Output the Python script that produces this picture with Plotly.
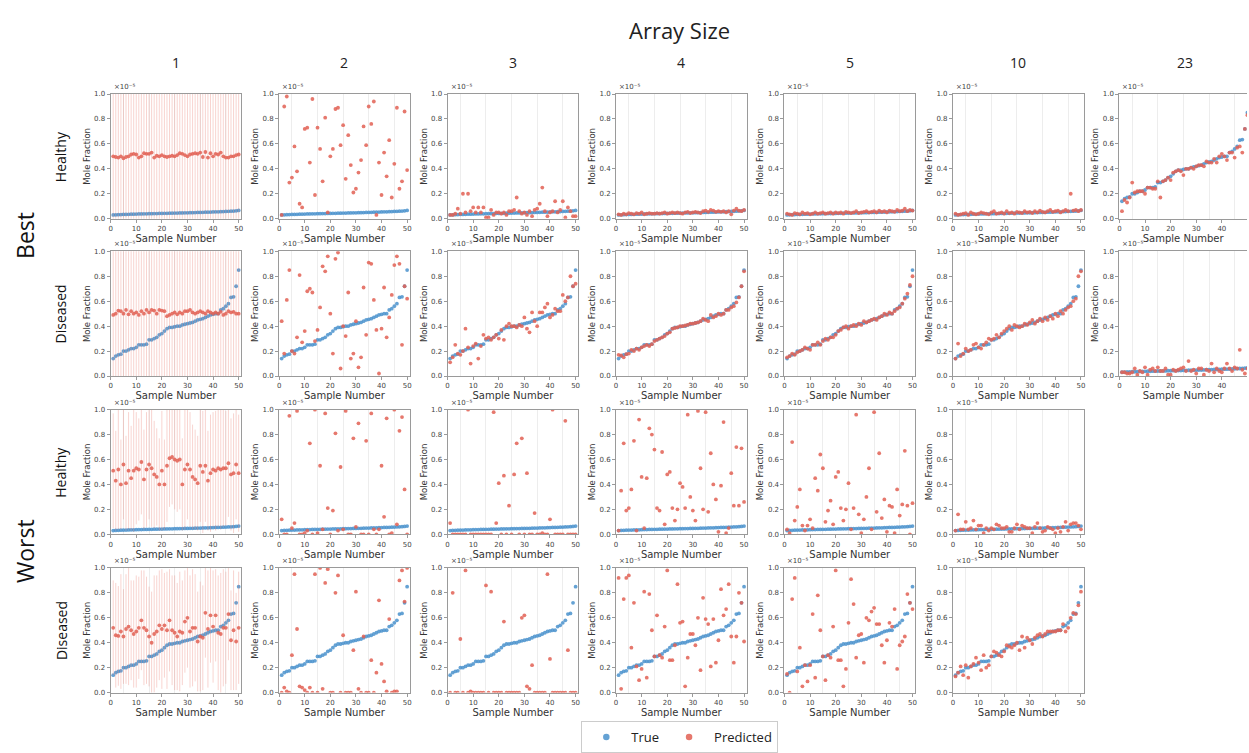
import plotly.graph_objects as go

W, H = 1249, 753

SAMPLES = list(range(1, 51))
ARRAY_SIZES = ["1", "2", "3", "4", "5", "10", "23"]
ROW_GROUPS = ["Best", "Worst"]
ROW_CONDITIONS = ["Healthy", "Diseased", "Healthy", "Diseased"]

healthy_true = [0.030,0.031,0.032,0.033,0.034,0.034,0.035,0.036,0.036,0.037,0.038,0.038,0.039,0.039,0.040,
                0.040,0.041,0.041,0.042,0.042,0.043,0.043,0.044,0.044,0.045,0.045,0.046,0.046,0.047,0.047,
                0.048,0.048,0.049,0.050,0.050,0.051,0.052,0.052,0.053,0.054,0.055,0.055,0.056,0.057,0.058,
                0.059,0.060,0.061,0.063,0.066]
diseased_true = [0.14,0.16,0.17,0.175,0.20,0.20,0.21,0.22,0.22,0.23,0.25,0.25,0.25,0.255,0.29,0.29,0.30,0.31,
                 0.33,0.34,0.36,0.38,0.39,0.39,0.395,0.40,0.40,0.41,0.415,0.42,0.425,0.43,0.44,0.45,0.455,
                 0.46,0.47,0.48,0.49,0.495,0.50,0.50,0.53,0.54,0.56,0.58,0.63,0.635,0.72,0.85]

# ---------- predicted values: Best / Healthy ----------
best_healthy_1 = [0.50,0.495,0.49,0.50,0.485,0.495,0.50,0.515,0.52,0.515,0.49,0.50,0.525,0.52,0.52,0.53,0.49,0.505,
                  0.50,0.51,0.50,0.495,0.50,0.505,0.50,0.51,0.525,0.52,0.51,0.50,0.515,0.52,0.525,0.52,0.53,0.495,
                  0.535,0.49,0.525,0.50,0.52,0.515,0.53,0.50,0.49,0.49,0.50,0.50,0.51,0.515]
best_healthy_1_err = [0.55,0.56,0.55,0.54,0.56,0.55,0.55,0.54,0.56,0.55,0.56,0.55,0.54,0.55,0.56,0.55,0.55,0.56,
                      0.55,0.54,0.56,0.55,0.55,0.54,0.56,0.55,0.55,0.56,0.54,0.55,0.56,0.55,0.54,0.55,0.56,0.55,
                      0.54,0.56,0.55,0.55,0.56,0.54,0.55,0.56,0.55,0.55,0.54,0.56,0.55,0.55]
best_healthy_2 = [0.03,0.90,0.98,0.29,0.33,0.58,0.38,0.12,0.09,0.72,0.73,0.45,0.96,0.19,0.73,0.56,0.30,0.81,0.05,
                  0.50,0.56,0.88,0.89,0.59,0.75,0.32,0.67,0.43,0.21,0.24,0.37,0.47,0.74,0.59,0.90,0.76,0.94,0.03,
                  0.45,0.19,0.53,0.34,0.63,0.17,0.44,0.89,0.24,0.30,0.86,0.39]
best_healthy_3 = [0.03,0.03,0.04,0.08,0.04,0.20,0.05,0.20,0.06,0.09,0.05,0.09,0.05,0.09,0.01,0.01,0.07,0.03,0.05,
                  0.05,0.04,0.05,0.03,0.06,0.06,0.07,0.17,0.06,0.04,0.05,0.03,0.06,0.02,0.07,0.08,0.12,0.25,0.06,
                  0.02,0.05,0.06,0.14,0.05,0.07,0.14,0.01,0.09,0.06,0.02,0.02]
best_healthy_4 = [0.035,0.030,0.040,0.035,0.045,0.040,0.035,0.045,0.040,0.050,0.035,0.040,0.045,0.040,0.040,0.045,
                  0.040,0.045,0.050,0.040,0.045,0.050,0.045,0.050,0.045,0.040,0.050,0.055,0.045,0.050,0.055,0.050,
                  0.045,0.060,0.065,0.055,0.070,0.065,0.055,0.060,0.055,0.060,0.050,0.060,0.035,0.065,0.080,0.065,
                  0.060,0.070]
best_healthy_5 = [0.04,0.035,0.03,0.045,0.04,0.035,0.05,0.04,0.045,0.035,0.04,0.05,0.04,0.045,0.05,0.04,0.045,0.05,
                  0.04,0.05,0.045,0.05,0.04,0.055,0.05,0.045,0.05,0.06,0.045,0.05,0.055,0.06,0.05,0.055,0.06,0.05,
                  0.065,0.055,0.06,0.05,0.065,0.06,0.055,0.07,0.06,0.065,0.08,0.06,0.07,0.065]
best_healthy_10 = [0.04,0.03,0.035,0.04,0.045,0.03,0.05,0.04,0.035,0.04,0.05,0.045,0.04,0.035,0.05,0.06,0.04,0.045,
                   0.05,0.04,0.06,0.045,0.05,0.04,0.055,0.05,0.045,0.06,0.05,0.055,0.045,0.06,0.05,0.065,0.055,0.05,
                   0.06,0.07,0.055,0.06,0.065,0.05,0.06,0.07,0.06,0.20,0.065,0.07,0.06,0.07]
best_healthy_23 = [0.06,0.15,0.13,0.17,0.29,0.21,0.22,0.22,0.22,0.20,0.25,0.25,0.24,0.24,0.30,0.17,0.30,0.31,0.33,
                   0.31,0.37,0.38,0.39,0.38,0.35,0.40,0.40,0.41,0.40,0.42,0.43,0.43,0.42,0.46,0.45,0.45,0.48,0.45,
                   0.50,0.52,0.50,0.47,0.53,0.53,0.49,0.57,0.58,0.53,0.72,0.83]

# ---------- predicted values: Best / Diseased ----------
best_diseased_1 = [0.49,0.50,0.525,0.52,0.50,0.53,0.495,0.52,0.50,0.51,0.49,0.52,0.50,0.53,0.51,0.53,0.525,0.50,
                   0.53,0.525,0.52,0.48,0.49,0.50,0.51,0.495,0.51,0.50,0.52,0.52,0.53,0.51,0.50,0.51,0.52,0.51,
                   0.50,0.52,0.51,0.50,0.51,0.50,0.515,0.49,0.50,0.52,0.51,0.515,0.50,0.50]
best_diseased_1_err = [0.55,0.54,0.56,0.55,0.55,0.56,0.54,0.55,0.56,0.55,0.54,0.55,0.56,0.55,0.55,0.54,0.56,0.55,
                       0.55,0.56,0.54,0.55,0.56,0.55,0.54,0.55,0.56,0.55,0.55,0.54,0.56,0.55,0.55,0.56,0.54,0.55,
                       0.56,0.55,0.54,0.55,0.56,0.55,0.55,0.54,0.56,0.55,0.55,0.56,0.54,0.55]
best_diseased_2 = [0.44,0.18,0.61,0.85,0.20,0.18,0.31,0.81,0.27,0.36,0.68,0.70,0.67,0.28,0.37,0.55,0.88,0.84,0.96,
                   0.50,0.18,0.94,0.99,0.06,0.40,0.32,0.67,0.14,0.18,0.44,0.07,0.15,0.71,0.33,0.91,0.90,0.61,0.37,
                   0.02,0.38,0.71,0.31,0.47,0.65,0.89,0.96,0.90,0.25,0.72,0.62]
best_diseased_3 = [0.11,0.15,0.25,0.18,0.17,0.20,0.38,0.23,0.10,0.24,0.26,0.14,0.24,0.33,0.30,0.31,0.29,0.31,0.33,
                   0.30,0.37,0.29,0.40,0.42,0.40,0.40,0.39,0.41,0.40,0.47,0.38,0.35,0.51,0.44,0.40,0.51,0.51,0.55,
                   0.58,0.47,0.49,0.54,0.52,0.52,0.65,0.60,0.63,0.80,0.72,0.74]
best_diseased_4 = [0.17,0.165,0.15,0.175,0.18,0.21,0.20,0.22,0.21,0.23,0.24,0.25,0.24,0.255,0.28,0.29,0.30,0.31,
                   0.32,0.34,0.35,0.38,0.385,0.39,0.40,0.40,0.405,0.41,0.42,0.42,0.425,0.43,0.44,0.46,0.45,0.44,
                   0.49,0.47,0.48,0.50,0.49,0.50,0.53,0.53,0.55,0.56,0.59,0.63,0.72,0.84]
best_diseased_5 = [0.15,0.16,0.18,0.17,0.19,0.20,0.21,0.23,0.22,0.21,0.25,0.25,0.27,0.25,0.28,0.30,0.29,0.31,0.31,
                   0.33,0.36,0.37,0.39,0.40,0.38,0.40,0.41,0.40,0.42,0.41,0.44,0.43,0.44,0.45,0.46,0.45,0.47,0.48,
                   0.50,0.49,0.51,0.50,0.52,0.54,0.55,0.58,0.62,0.66,0.73,0.80]
best_diseased_10 = [0.14,0.26,0.16,0.18,0.22,0.20,0.21,0.25,0.26,0.23,0.22,0.25,0.27,0.30,0.29,0.30,0.33,0.31,0.34,
                    0.36,0.38,0.40,0.37,0.41,0.40,0.39,0.40,0.42,0.41,0.43,0.45,0.42,0.44,0.46,0.44,0.47,0.45,0.48,
                    0.46,0.50,0.48,0.52,0.50,0.53,0.55,0.56,0.60,0.62,0.80,0.84]
best_diseased_23 = [0.03,0.03,0.02,0.02,0.03,0.06,0.01,0.04,0.03,0.07,0.01,0.05,0.06,0.04,0.07,0.04,0.04,0.06,0.01,
                    0.01,0.05,0.04,0.05,0.06,0.07,0.04,0.12,0.04,0.05,0.02,0.06,0.06,0.01,0.05,0.04,0.10,0.03,0.06,
                    0.04,0.03,0.06,0.10,0.06,0.04,0.07,0.06,0.21,0.05,0.02,0.06]

# ---------- predicted values: Worst / Healthy ----------
worst_healthy_1 = [0.51,0.43,0.52,0.40,0.56,0.41,0.51,0.45,0.51,0.53,0.52,0.58,0.44,0.52,0.56,0.53,0.48,0.46,0.40,
                   0.51,0.40,0.55,0.61,0.62,0.60,0.59,0.60,0.40,0.52,0.56,0.52,0.46,0.44,0.41,0.55,0.50,0.55,0.43,
                   0.49,0.52,0.51,0.53,0.52,0.53,0.53,0.57,0.48,0.49,0.56,0.49]
worst_healthy_1_err = [0.46,0.40,0.48,0.36,0.44,0.38,0.47,0.42,0.49,0.45,0.41,0.42,0.40,0.46,0.44,0.47,0.43,0.39,
                       0.37,0.48,0.36,0.45,0.39,0.38,0.40,0.41,0.40,0.37,0.48,0.44,0.46,0.42,0.40,0.38,0.45,0.49,
                       0.45,0.40,0.47,0.46,0.48,0.47,0.48,0.47,0.46,0.43,0.45,0.48,0.44,0.47]
worst_healthy_2 = [0.12,0.00,0.00,0.95,0.05,0.09,0.99,0.00,0.00,0.01,0.03,0.73,0.00,1.00,0.01,0.55,0.04,0.97,0.21,
                   0.00,0.19,0.81,0.03,0.54,0.04,0.99,0.00,0.00,0.77,0.06,0.89,0.00,0.00,0.75,0.00,0.97,0.04,0.00,
                   0.04,0.55,0.14,0.93,0.00,0.01,1.00,0.08,0.83,0.94,0.36,0.00]
worst_healthy_3 = [0.09,0.00,0.00,0.00,0.00,0.00,0.00,1.00,0.00,0.00,0.00,0.00,0.00,0.00,0.00,0.00,0.00,0.98,0.09,
                   0.41,0.00,0.47,0.00,0.23,0.00,0.48,0.73,0.00,0.77,0.00,0.49,0.00,0.00,0.17,0.00,0.00,0.01,0.00,
                   0.00,0.12,1.00,0.00,0.00,0.00,0.00,0.91,0.00,0.00,0.00,0.00]
worst_healthy_4 = [0.03,0.35,0.73,0.19,0.21,0.36,0.75,0.03,0.92,0.46,0.05,0.45,0.85,0.80,0.68,0.21,0.19,0.66,0.08,
                   0.48,0.50,0.21,0.11,0.20,0.41,0.38,0.21,0.96,0.30,0.19,0.11,0.99,0.53,0.20,0.98,0.18,0.65,0.40,
                   0.28,0.02,0.39,0.90,0.01,0.05,0.49,0.23,0.70,0.23,0.69,0.26]
worst_healthy_5 = [0.04,0.01,0.74,0.11,0.22,0.36,0.07,0.03,0.07,0.12,0.05,0.45,0.35,0.64,0.53,0.10,0.19,0.27,0.08,
                   0.46,0.50,0.21,0.11,0.20,0.41,0.04,0.21,0.96,0.16,0.01,0.12,0.30,0.53,0.04,0.98,0.18,0.65,0.13,
                   0.28,0.02,0.23,0.22,0.01,0.36,0.15,0.24,0.67,0.23,0.00,0.25]
worst_healthy_10 = [0.03,0.16,0.04,0.04,0.10,0.04,0.05,0.11,0.04,0.07,0.07,0.01,0.05,0.03,0.05,0.04,0.08,0.07,0.05,
                    0.05,0.06,0.02,0.02,0.05,0.08,0.04,0.07,0.06,0.05,0.05,0.01,0.06,0.09,0.05,0.02,0.03,0.06,0.05,
                    0.04,0.01,0.05,0.02,0.06,0.10,0.03,0.08,0.09,0.09,0.07,0.04]

# ---------- predicted values: Worst / Diseased ----------
worst_diseased_1 = [0.52,0.46,0.455,0.49,0.45,0.51,0.53,0.50,0.47,0.49,0.52,0.58,0.52,0.50,0.45,0.40,0.47,0.49,0.54,
                    0.51,0.54,0.50,0.58,0.50,0.48,0.45,0.49,0.48,0.57,0.60,0.49,0.52,0.52,0.41,0.45,0.44,0.64,0.51,
                    0.62,0.53,0.62,0.48,0.47,0.52,0.52,0.63,0.42,0.50,0.41,0.52]
worst_diseased_1_err = [0.38,0.42,0.40,0.46,0.38,0.44,0.47,0.40,0.43,0.45,0.41,0.40,0.46,0.43,0.40,0.41,0.47,0.45,
                        0.44,0.48,0.42,0.47,0.41,0.44,0.46,0.43,0.48,0.42,0.41,0.40,0.45,0.47,0.43,0.40,0.44,0.42,
                        0.36,0.47,0.38,0.45,0.37,0.46,0.49,0.47,0.45,0.37,0.40,0.48,0.39,0.45]
worst_diseased_2 = [0.00,0.04,0.01,0.00,0.30,0.95,0.51,0.05,0.04,0.02,0.00,0.04,0.00,0.95,0.00,1.00,0.03,0.88,0.99,
                    0.00,0.00,0.80,0.94,0.00,0.46,0.00,0.00,0.00,0.34,0.81,0.03,0.00,0.45,0.00,0.00,0.26,0.00,0.16,
                    0.74,0.23,0.09,0.01,0.59,0.00,0.01,0.01,0.90,0.98,0.73,1.00]
worst_diseased_3 = [0.00,0.80,0.00,0.00,0.43,0.00,0.98,0.00,0.01,0.00,0.00,0.00,0.00,0.00,0.86,0.00,0.81,0.00,0.00,
                    0.00,0.00,0.57,0.00,0.00,0.00,0.00,0.00,0.00,0.60,0.62,0.05,0.03,0.22,0.00,0.00,0.00,0.00,0.00,
                    0.95,0.27,0.00,0.00,0.00,0.00,0.00,0.00,0.34,0.00,0.00,0.00]
worst_diseased_4 = [0.92,0.03,0.75,0.92,0.94,0.36,0.72,0.21,0.10,0.19,0.81,0.12,0.79,0.50,0.29,0.62,0.30,0.28,0.53,
                    0.98,0.26,0.26,0.38,0.87,0.56,0.57,0.05,0.28,0.47,0.47,0.38,0.60,0.18,0.76,0.59,0.55,0.21,0.59,
                    0.24,0.42,0.83,0.62,0.67,0.87,0.45,0.24,0.45,0.80,0.72,0.41]
worst_diseased_5 = [0.15,0.00,0.75,0.92,0.17,0.36,0.05,0.22,0.09,0.22,0.63,0.12,0.78,0.50,0.29,0.10,0.30,0.28,0.53,
                    0.98,0.26,0.26,0.05,0.19,0.56,0.91,0.71,0.28,0.46,0.47,0.24,0.60,0.58,0.65,0.68,0.55,0.55,0.38,
                    0.24,0.42,0.56,0.53,0.67,0.19,0.38,0.41,0.45,0.79,0.72,0.67]
worst_diseased_10 = [0.13,0.16,0.21,0.14,0.22,0.12,0.21,0.23,0.28,0.24,0.18,0.30,0.20,0.22,0.29,0.33,0.32,0.30,0.29,
                     0.33,0.38,0.37,0.36,0.38,0.40,0.34,0.45,0.36,0.44,0.42,0.39,0.44,0.46,0.47,0.45,0.47,0.49,0.49,
                     0.49,0.49,0.50,0.50,0.55,0.49,0.52,0.60,0.64,0.63,0.70,0.81]

# panel table: (row, col) -> (true, predicted, error)
panels = {
    (0, 0): (healthy_true, best_healthy_1, best_healthy_1_err),
    (0, 1): (healthy_true, best_healthy_2, None),
    (0, 2): (healthy_true, best_healthy_3, None),
    (0, 3): (healthy_true, best_healthy_4, None),
    (0, 4): (healthy_true, best_healthy_5, None),
    (0, 5): (healthy_true, best_healthy_10, None),
    (0, 6): (diseased_true, best_healthy_23, None),
    (1, 0): (diseased_true, best_diseased_1, best_diseased_1_err),
    (1, 1): (diseased_true, best_diseased_2, None),
    (1, 2): (diseased_true, best_diseased_3, None),
    (1, 3): (diseased_true, best_diseased_4, None),
    (1, 4): (diseased_true, best_diseased_5, None),
    (1, 5): (diseased_true, best_diseased_10, None),
    (1, 6): (healthy_true, best_diseased_23, None),
    (2, 0): (healthy_true, worst_healthy_1, worst_healthy_1_err),
    (2, 1): (healthy_true, worst_healthy_2, None),
    (2, 2): (healthy_true, worst_healthy_3, None),
    (2, 3): (healthy_true, worst_healthy_4, None),
    (2, 4): (healthy_true, worst_healthy_5, None),
    (2, 5): (healthy_true, worst_healthy_10, None),
    (3, 0): (diseased_true, worst_diseased_1, worst_diseased_1_err),
    (3, 1): (diseased_true, worst_diseased_2, None),
    (3, 2): (diseased_true, worst_diseased_3, None),
    (3, 3): (diseased_true, worst_diseased_4, None),
    (3, 4): (diseased_true, worst_diseased_5, None),
    (3, 5): (diseased_true, worst_diseased_10, None),
}

# ---------- layout geometry (window pixels) ----------
COL_LEFT = [109, 278, 447, 616, 785, 954, 1121]
ROW_TOP = [91, 250, 410, 570]
PW, PH = 131, 126


def px(xw):
    return xw / W


def py(yw):
    return 1 - yw / H


TRUE_C = "rgba(74,146,204,0.85)"
PRED_C = "rgba(226,96,84,0.85)"
ERR_C = "rgba(232,120,110,0.32)"
AX_C = "#9a9a9a"
TXT = "#333333"
TICKFONT = dict(family="DejaVu Sans", size=7, color="#444")

fig = go.Figure()
annotations = []

for idx, ((r, c), (tv, pv, ev)) in enumerate(sorted(panels.items())):
    n = idx + 1
    xa = "x" if n == 1 else f"x{n}"
    ya = "y" if n == 1 else f"y{n}"
    left = COL_LEFT[c]
    right = min(left + PW, W)
    top = ROW_TOP[r]
    bottom = top + PH
    xdom = [px(left), min(px(right), 1.0)]
    ydom = [py(bottom), py(top)]
    xmax = 51 * (right - left) / PW

    fig.add_trace(go.Scatter(
        x=SAMPLES, y=tv, mode="markers", xaxis=xa, yaxis=ya,
        marker=dict(color=TRUE_C, size=3.8), name="True",
        showlegend=False, legendgroup="true", cliponaxis=True))
    err = None
    if ev is not None:
        err = dict(type="data", array=ev, visible=True, color=ERR_C, thickness=1, width=0)
    fig.add_trace(go.Scatter(
        x=SAMPLES, y=pv, mode="markers", xaxis=xa, yaxis=ya, error_y=err,
        marker=dict(color=PRED_C, size=3.8), name="Predicted",
        showlegend=False, legendgroup="pred", cliponaxis=True))

    last_col = (c == 6)
    fig.layout[("xaxis" if n == 1 else f"xaxis{n}")] = dict(
        domain=xdom, range=[0, xmax], anchor=ya, showgrid=False, zeroline=False,
        tickvals=[0, 10, 20, 30, 40, 50], ticks="outside", ticklen=3, tickwidth=0.8, tickcolor=AX_C,
        tickfont=TICKFONT, showline=True, linecolor=AX_C, linewidth=1, mirror=True,
        minor=dict(tickvals=[5, 15, 25, 35, 45], showgrid=True, gridcolor="rgba(0,0,0,0.07)", gridwidth=1, ticks=""),
        title=dict(text="Sample Number", font=dict(family="DejaVu Sans", size=10, color=TXT), standoff=2),
        fixedrange=True)
    fig.layout[("yaxis" if n == 1 else f"yaxis{n}")] = dict(
        domain=ydom, range=[0, 1], anchor=xa, showgrid=False, zeroline=False,
        tickvals=[0, 0.2, 0.4, 0.6, 0.8, 1.0], ticktext=["0.0", "0.2", "0.4", "0.6", "0.8", "1.0"],
        ticks="outside", ticklen=3, tickwidth=0.8, tickcolor=AX_C, tickfont=TICKFONT,
        showline=True, linecolor=AX_C, linewidth=1, mirror=not last_col,
        title=dict(text="Mole Fraction", font=dict(family="DejaVu Sans", size=8.5, color=TXT), standoff=2),
        fixedrange=True)
    annotations.append(dict(
        text="×10⁻⁵", x=px(left + 1), y=py(top - 1), xref="paper", yref="paper",
        xanchor="left", yanchor="bottom", showarrow=False,
        font=dict(family="DejaVu Sans", size=7, color="#444")))

# legend entries (legend keys only)
fig.add_trace(go.Scatter(x=[None], y=[None], mode="markers", name="True",
                         marker=dict(color=TRUE_C, size=6.5), showlegend=True, legendgroup="true"))
fig.add_trace(go.Scatter(x=[None], y=[None], mode="markers", name="Predicted",
                         marker=dict(color=PRED_C, size=6.5), showlegend=True, legendgroup="pred"))

# column headers
annotations.append(dict(text="Array Size", x=px(680), y=py(26), xref="paper", yref="paper",
                        xanchor="center", yanchor="middle",
                        showarrow=False, font=dict(family="Open Sans", size=22, color="#222")))
for c, lab in enumerate(ARRAY_SIZES):
    cx = COL_LEFT[c] + PW / 2
    annotations.append(dict(text=lab, x=px(cx), y=py(59), xref="paper", yref="paper",
                            xanchor="center", yanchor="middle",
                            showarrow=False, font=dict(family="Open Sans", size=14, color="#222")))
# row labels
for g, lab in enumerate(ROW_GROUPS):
    cy = (ROW_TOP[2 * g] + ROW_TOP[2 * g + 1] + PH) / 2
    annotations.append(dict(text=lab, x=px(23), y=py(cy), xref="paper", yref="paper", textangle=-90,
                            xanchor="center", yanchor="middle",
                            showarrow=False, font=dict(family="Open Sans", size=23, color="#111")))
for r, lab in enumerate(ROW_CONDITIONS):
    cy = ROW_TOP[r] + PH / 2
    annotations.append(dict(text=lab, x=px(59), y=py(cy), xref="paper", yref="paper", textangle=-90,
                            xanchor="center", yanchor="middle",
                            showarrow=False, font=dict(family="Open Sans", size=14, color="#111")))

fig.update_layout(
    width=W, height=H, margin=dict(l=0, r=0, t=0, b=0),
    paper_bgcolor="white", plot_bgcolor="white",
    annotations=annotations,
    legend=dict(orientation="h", x=px(680), y=-0.006, xanchor="center", yanchor="bottom",
                bordercolor="#cccccc", borderwidth=1, bgcolor="white",
                font=dict(family="Open Sans", size=13, color="#222"), itemwidth=40,
                tracegroupgap=0),
    showlegend=True,
)

fig.write_html("out.html", config={"displayModeBar": False},
               post_script="document.body.style.margin='0';document.body.style.overflow='hidden';")
